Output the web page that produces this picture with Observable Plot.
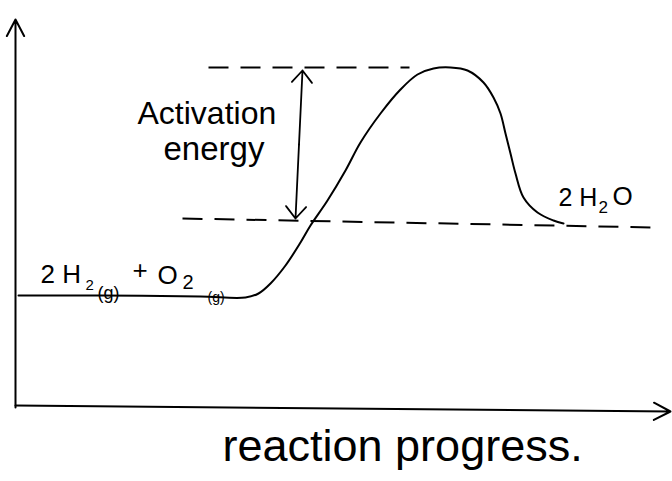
<!DOCTYPE html>
<html>
<head>
<meta charset="utf-8">
<script src="https://cdn.jsdelivr.net/npm/d3@7"></script>
<script src="https://cdn.jsdelivr.net/npm/@observablehq/plot@0.6"></script>
<style>
  html, body { margin: 0; padding: 0; background: #fff; }
  #chart svg { display: block; }
</style>
</head>
<body>
<div id="chart"></div>
<script>
// Reaction coordinate (progress) and potential energy
const curveProgress = [3, 85, 185, 230, 243, 255, 270, 285, 295, 312, 330, 345, 365, 385, 402, 418, 435, 452, 468, 478, 485, 490, 495, 500, 508, 522, 538, 548];
const curveEnergy   = [112, 112, 111, 110, 114, 124, 142, 165, 182, 207, 237, 265, 294, 318, 333, 339, 340, 337, 325, 310, 294, 274, 254, 234, 210, 195, 187, 184];

// Dashed reference levels: transition state and products
const peakLevel    = {p1: 193, p2: 394, e1: 340, e2: 340};
const productLevel = {p1: 167, p2: 640, e1: 189, e2: 180};

// Activation energy double arrow (from product level up to peak)
const eaArrow = {p1: 280, e1: 189, p2: 287, e2: 337};

// Axes extents
const yAxisArrow = {p1: 0, e1: 0, p2: 0, e2: 388};
const xAxisArrow = {p1: 0, e1: 2, p2: 655, e2: -4};

// Labels (text, progress, energy, font size)
const labelText = ["Activation", "energy", "2 H", "2", "(g)", "+", "O", "2", "(g)", "2 H", "2", "O", "reaction progress."];
const labelP    = [122, 148, 25, 70, 82, 117, 142, 167, 192, 543, 583, 597, 207];
const labelE    = [294, 258, 133, 122, 114, 137, 132, 125, 110, 210, 200, 211, -39];
const labelSize = [32, 33, 26, 15, 18, 26, 26, 20, 14, 25, 17, 26, 45];

const labels = labelText.map((t, i) => ({text: t, p: labelP[i], e: labelE[i], size: labelSize[i]}));

const line = curveProgress.map((p, i) => ({p, e: curveEnergy[i]}));

const mid = {p: (eaArrow.p1 + eaArrow.p2) / 2, e: (eaArrow.e1 + eaArrow.e2) / 2};

const font = "'Liberation Sans', 'DejaVu Sans', sans-serif";

const chart = Plot.plot({
  width: 672,
  height: 481,
  margin: 0,
  x: {domain: [-15, 657], range: [0, 672], axis: null},
  y: {domain: [-74, 407], range: [481, 0], axis: null},
  style: {background: "#fff", overflow: "visible"},
  marks: [
    // axes
    Plot.arrow([yAxisArrow], {x1: "p1", y1: "e1", x2: "p2", y2: "e2", stroke: "#000", strokeWidth: 2, headLength: 14, headAngle: 55}),
    Plot.arrow([xAxisArrow], {x1: "p1", y1: "e1", x2: "p2", y2: "e2", stroke: "#000", strokeWidth: 2, headLength: 14, headAngle: 55}),
    // dashed levels
    Plot.link([peakLevel, productLevel], {x1: "p1", y1: "e1", x2: "p2", y2: "e2", stroke: "#000", strokeWidth: 2, strokeDasharray: "20,12"}),
    // activation energy arrow (two halves)
    Plot.arrow([
      {p1: mid.p, e1: mid.e, p2: eaArrow.p2, e2: eaArrow.e2},
      {p1: mid.p, e1: mid.e, p2: eaArrow.p1, e2: eaArrow.e1}
    ], {x1: "p1", y1: "e1", x2: "p2", y2: "e2", stroke: "#000", strokeWidth: 1.8, headLength: 13, headAngle: 80}),
    // energy profile
    Plot.line(line, {x: "p", y: "e", curve: "catmull-rom", stroke: "#000", strokeWidth: 2}),
    // labels
    Plot.text(labels, {x: "p", y: "e", text: "text", fontSize: "size", textAnchor: "start", fill: "#000", fontFamily: font})
  ]
});

document.getElementById("chart").appendChild(chart);
</script>
</body>
</html>
